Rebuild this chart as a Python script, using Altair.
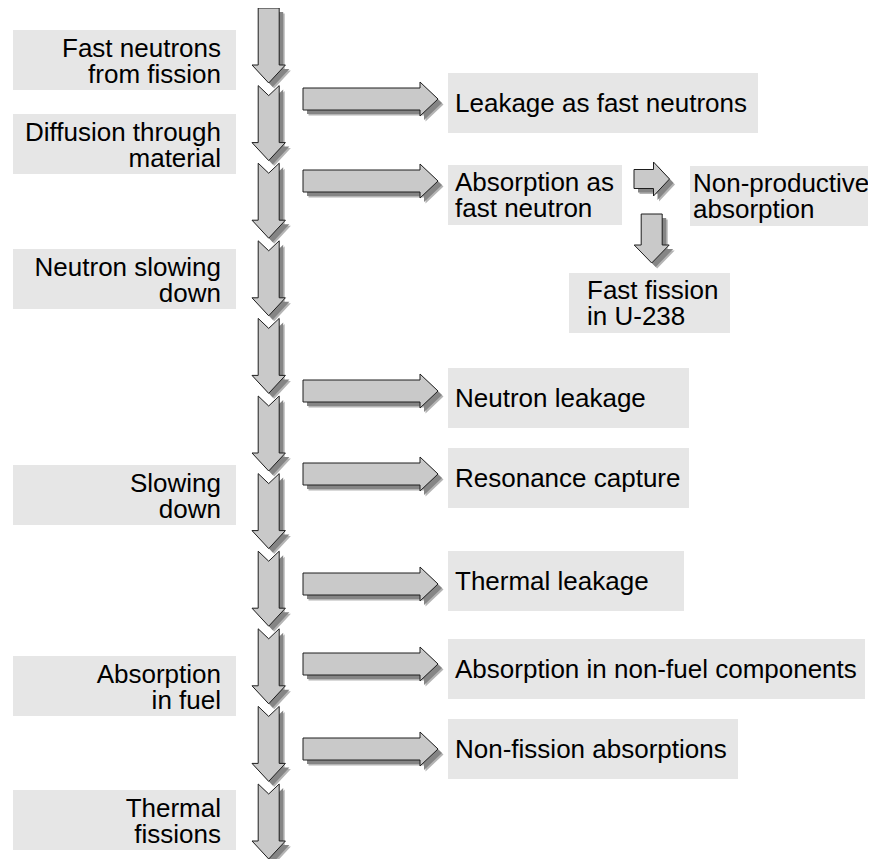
import altair as alt
import pandas as pd

# ---------------- content (labels) ----------------
flow_steps = [
    "Fast neutrons\nfrom fission",
    "Diffusion through\nmaterial",
    "Neutron slowing\ndown",
    "Slowing\ndown",
    "Absorption\nin fuel",
    "Thermal\nfissions",
]
loss_labels = [
    "Leakage as fast neutrons",
    "Absorption as\nfast neutron",
    "Neutron leakage",
    "Resonance capture",
    "Thermal leakage",
    "Absorption in non-fuel components",
    "Non-fission absorptions",
]
branch_labels = ["Non-productive\nabsorption", "Fast fission\nin U-238"]
n_main_arrows = 11

# ---------------- layout (page pixel space) ----------------
W, H, M = 860, 851, 8
BOX_H = 60
left_box_x = (13, 236)
left_box_top = [30, 114, 249, 465, 656, 790]
left_text_x = 221
loss_box_x0 = [448, 448, 448, 448, 448, 448, 448]
loss_box_x1 = [758, 622, 689, 689, 684, 865, 738]
loss_box_top = [73, 165, 368, 448, 551, 639, 719]
loss_arrow_y = [99, 181, 391, 474, 584, 664, 749]
branch_box_x0 = [690, 569]
branch_box_x1 = [880, 730]
branch_box_top = [166, 273]
branch_text_x = [693, 587]

MAIN_CX, MAIN_TOP, MAIN_STEP, MAIN_LEN = 268.7, 8, 77.6, 75
SHADOW = 4

FONT = "Liberation Sans"
FS = 26
LH = 26.5


def feat(pts):
    return {"type": "Feature", "properties": {},
            "geometry": {"type": "Polygon", "coordinates": [[list(p) for p in pts]]}}


def down_arrow(cx, top, tip, shw, hhw, hl, notch):
    hb = tip - hl
    pts = [(cx - shw, top)]
    if notch:
        pts.append((cx, top + notch))
    pts += [(cx + shw, top), (cx + shw, hb), (cx + hhw, hb), (cx, tip),
            (cx - hhw, hb), (cx - shw, hb), (cx - shw, top)]
    return pts


def right_arrow(left, tip, cy, shw, hhw, hl):
    hb = tip - hl
    return [(left, cy - shw), (hb, cy - shw), (hb, cy - hhw), (tip, cy),
            (hb, cy + hhw), (hb, cy + shw), (left, cy + shw), (left, cy - shw)]


arrows = []
for i in range(n_main_arrows):
    top = MAIN_TOP + MAIN_STEP * i
    arrows.append(down_arrow(MAIN_CX, top, top + MAIN_LEN, 10.5, 16.7, 18, 0 if i == 0 else 10))
for cy in loss_arrow_y:
    arrows.append(right_arrow(303, 438, cy, 11, 17, 18))
arrows.append(right_arrow(634, 669.5, 179, 9.5, 17, 16))
arrows.append(down_arrow(651.7, 214, 263, 10.5, 17.5, 18, 0))

arrow_feats = [feat(p) for p in arrows]
shadow_feats = [feat([(x + SHADOW, y + SHADOW) for x, y in p]) for p in arrows]
shadow2_feats = [feat([(x + SHADOW + 1.5, y + SHADOW + 1.5) for x, y in p]) for p in arrows]


def text_y(label, center):
    n = label.count("\n")
    return center - n * LH / 2


# boxes & texts
boxes = []
texts = []
for lab, t in zip(flow_steps, left_box_top):
    boxes.append({"x0": left_box_x[0], "x1": left_box_x[1], "y0": t, "y1": t + BOX_H})
    texts.append({"x": left_text_x, "y": text_y(lab, t + BOX_H / 2 + 2), "label": lab, "align": "right"})
for lab, x0, x1, t in zip(loss_labels, loss_box_x0, loss_box_x1, loss_box_top):
    boxes.append({"x0": x0, "x1": x1, "y0": t, "y1": t + BOX_H})
    texts.append({"x": x0 + 7, "y": text_y(lab, t + BOX_H / 2 + 1), "label": lab, "align": "left"})
for lab, x0, x1, t, tx in zip(branch_labels, branch_box_x0, branch_box_x1, branch_box_top, branch_text_x):
    boxes.append({"x0": x0, "x1": x1, "y0": t, "y1": t + BOX_H})
    texts.append({"x": tx, "y": text_y(lab, t + BOX_H / 2 + 1), "label": lab, "align": "left"})

box_df = pd.DataFrame(boxes)
text_df = pd.DataFrame(texts)

xs = alt.Scale(domain=[M, M + W], nice=False, zero=False)
ys = alt.Scale(domain=[M, M + H], nice=False, zero=False, reverse=True)

PROJ = dict(type="identity", scale=1, translate=[-M, -M])

rects = alt.Chart(box_df).mark_rect(color="#e6e6e6").encode(
    x=alt.X("x0:Q", scale=xs, axis=None), x2="x1:Q",
    y=alt.Y("y0:Q", scale=ys, axis=None), y2="y1:Q",
)

shadow2 = alt.Chart(alt.Data(values=shadow2_feats)).mark_geoshape(
    fill="#b4b4b4", strokeWidth=0).project(**PROJ)
shadow = alt.Chart(alt.Data(values=shadow_feats)).mark_geoshape(
    fill="#858585", strokeWidth=0).project(**PROJ)
arrow_layer = alt.Chart(alt.Data(values=arrow_feats)).mark_geoshape(
    fill="#c9c9c9", stroke="#1e1e1e", strokeWidth=1).project(**PROJ)

text_left = alt.Chart(text_df[text_df["align"] == "left"]).mark_text(
    align="left", baseline="middle", font=FONT, fontSize=FS, lineHeight=LH,
    lineBreak="\n", color="#000000").encode(
    x=alt.X("x:Q", scale=xs, axis=None), y=alt.Y("y:Q", scale=ys, axis=None), text="label:N")
text_right = alt.Chart(text_df[text_df["align"] == "right"]).mark_text(
    align="right", baseline="middle", font=FONT, fontSize=FS, lineHeight=LH,
    lineBreak="\n", color="#000000").encode(
    x=alt.X("x:Q", scale=xs, axis=None), y=alt.Y("y:Q", scale=ys, axis=None), text="label:N")

chart = alt.layer(rects, shadow2, shadow, arrow_layer, text_left, text_right).properties(
    width=W, height=H, padding=0, autosize="none", background="white"
).configure_view(stroke=None)

chart.save("out.html", embed_options={"renderer": "svg", "actions": False})
